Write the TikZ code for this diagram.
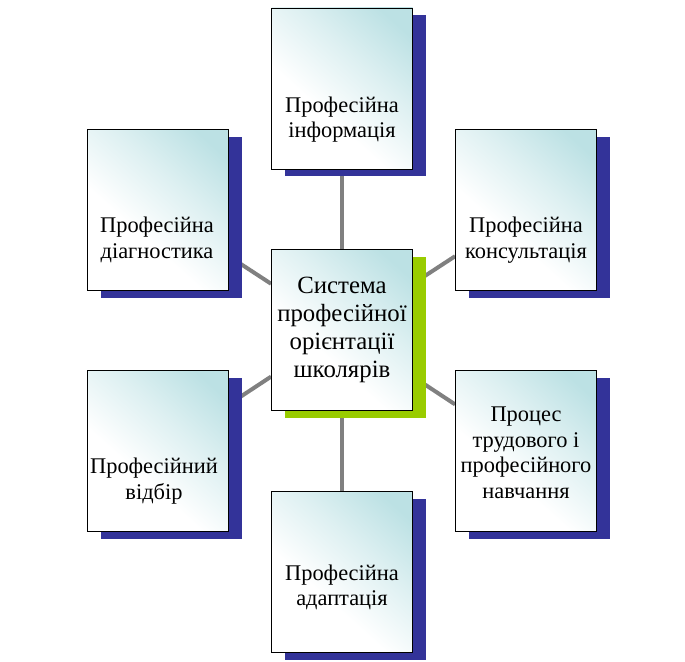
\documentclass[tikz,border=0pt]{standalone}
\usepackage{fontspec}
\setmainfont{Liberation Serif}
\usetikzlibrary{backgrounds, shadows}

\definecolor{boxteal}{RGB}{188,225,228}
\definecolor{shadowblue}{RGB}{51,51,153}
\definecolor{hubgreen}{RGB}{153,204,0}
\definecolor{linkgray}{RGB}{128,128,128}

\pgfdeclarehorizontalshading{boxfade}{100bp}{color(0bp)=(white); color(40bp)=(white); color(60bp)=(boxteal!50); color(78bp)=(boxteal); color(100bp)=(boxteal)}

\begin{document}
\begin{tikzpicture}[
    x=1pt, y=-1pt,
    every node/.style={align=center},
    card/.style={draw, line width=0.8pt, shading=boxfade, shading angle=48, minimum width=141pt, minimum height=161pt, inner sep=0pt,
        general shadow={fill=#1, shadow xshift=13.5pt, shadow yshift=-7pt}},
    card/.default=shadowblue,
    txt/.style={font=\fontsize{22.4}{25.5}\selectfont, inner sep=0pt},
    hubtxt/.style={font=\fontsize{24.8}{28}\selectfont, inner sep=0pt},
    link/.style={draw=linkgray, line width=4pt}
]
\useasboundingbox (0,0) rectangle (685,661);

\node[card=hubgreen] (hub) at (342,330) {};
\node[card] (info) at (342,88.5) {};
\node[card] (diag) at (158,210) {};
\node[card] (cons) at (526,210) {};
\node[card] (select) at (158,451) {};
\node[card] (train) at (526,451) {};
\node[card] (adapt) at (342,572) {};

\node[hubtxt] (hubt) at (hub.center) {Система\\професійної\\орієнтації\\школярів};
\node[txt] (infot) at ([yshift=-31]info.center) {Професійна\\інформація};
\node[txt] (diagt) at ([xshift=-1,yshift=-30]diag.center) {Професійна\\діагностика};
\node[txt] (const) at ([yshift=-30]cons.center) {Професійна\\консультація};
\node[txt] (selectt) at ([xshift=-4,yshift=-30]select.center) {Професійний\\відбір};
\node[txt] (traint) at ([yshift=-2]train.center) {Процес\\трудового і\\професійного\\навчання};
\node[txt] (adaptt) at ([yshift=-15.5]adapt.center) {Професійна\\адаптація};

\begin{scope}[on background layer]
\draw[link] (hub) -- (info);
\draw[link] (hub) -- (diag);
\draw[link] (hub) -- (cons);
\draw[link] (hub) -- (select);
\draw[link] (hub) -- (train);
\draw[link] (hub) -- (adapt);
\end{scope}
\end{tikzpicture}
\end{document}
